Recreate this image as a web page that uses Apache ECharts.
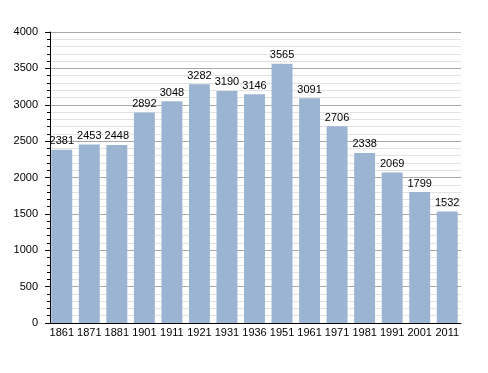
<!DOCTYPE html>
<html><head><meta charset="utf-8">
<script src="https://cdn.jsdelivr.net/npm/echarts@6/dist/echarts.min.js"></script>
<style>html,body{margin:0;padding:0;background:#fff}#c{width:488px;height:373px}</style>
</head><body><div id="c"></div>
<script>
const years = ['1861','1871','1881','1901','1911','1921','1931','1936','1951','1961','1971','1981','1991','2001','2011'];
const population = [2381,2453,2448,2892,3048,3282,3190,3146,3565,3091,2706,2338,2069,1799,1532];
const yTicks = [0,500,1000,1500,2000,2500,3000,3500,4000];

const chart = echarts.init(document.getElementById('c'), null, {renderer:'canvas'});
chart.setOption({
  animation:false,
  grid:{left:48,right:27,top:32,bottom:50},
  xAxis:{type:'category',data:years,
    axisLine:{lineStyle:{color:'#000',width:1}},
    axisTick:{show:false},
    axisLabel:{color:'#000',fontFamily:'Liberation Sans, Arial',fontSize:11,margin:4,interval:0}},
  yAxis:{type:'value',min:yTicks[0],max:yTicks[yTicks.length-1],interval:500,offset:-2,
    axisLine:{show:true,lineStyle:{color:'#000',width:1}},
    axisTick:{show:true,length:5,lineStyle:{color:'#000'}},
    minorTick:{show:true,splitNumber:5,length:3,lineStyle:{color:'#000'}},
    splitLine:{show:true,lineStyle:{color:'#a8a8a8',width:1}},
    minorSplitLine:{show:true,lineStyle:{color:'#e2e2e2',width:1}},
    axisLabel:{color:'#000',fontFamily:'Liberation Sans, Arial',fontSize:11,margin:12,
      formatter:function(v){return String(v);}}},
  series:[{type:'bar',data:population,barCategoryGap:'24%',
    itemStyle:{color:'#9ab4d1'},
    label:{show:true,position:'top',color:'#000',fontFamily:'Liberation Sans, Arial',fontSize:11,distance:3}}]
});
</script></body></html>
